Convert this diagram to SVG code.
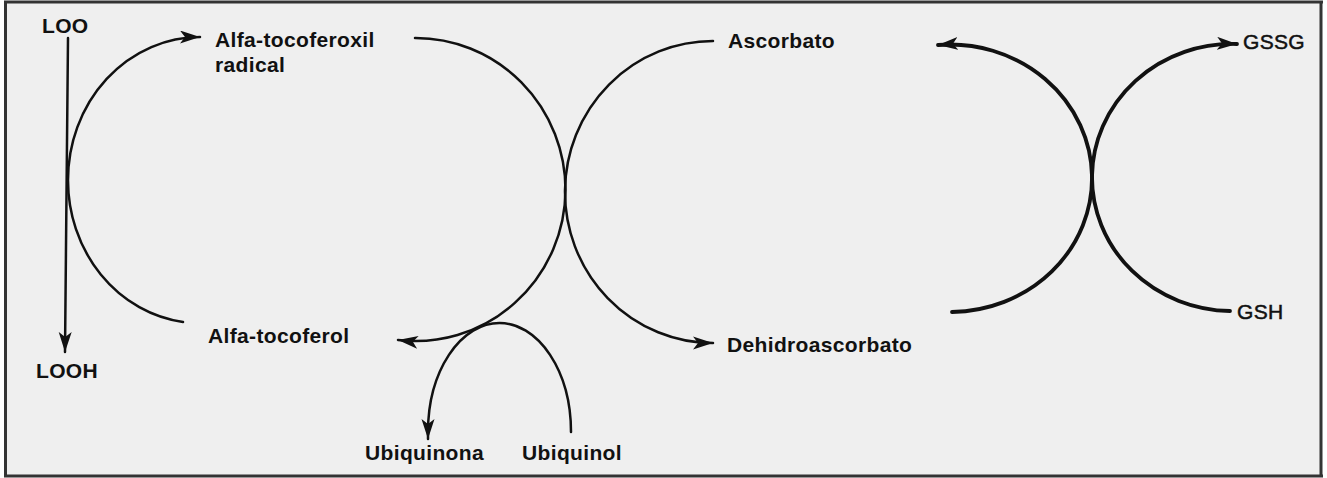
<svg xmlns="http://www.w3.org/2000/svg" width="1327" height="478" viewBox="0 0 1327 478">
<style>
.lbl{font-family:"Liberation Sans",Arial,sans-serif;font-size:21px;font-weight:bold;letter-spacing:0.35px;fill:#111}
.lbn{font-family:"Liberation Sans",Arial,sans-serif;font-size:21px;font-weight:normal;letter-spacing:0.3px;fill:#111;stroke:#111;stroke-width:0.5}
.c{fill:none;stroke:#111;stroke-width:2.5;stroke-linecap:round}
.t{fill:none;stroke:#111;stroke-width:3.8;stroke-linecap:round}
</style>
<defs>
<marker id="ah" markerUnits="userSpaceOnUse" markerWidth="22" markerHeight="14" refX="20" refY="6.5" orient="auto">
<path d="M0,0 L20,6.5 L0,13 L5,6.5 z" fill="#111"/>
</marker>
</defs>
<rect x="0" y="0" width="1327" height="478" fill="#fff"/>
<rect x="5" y="2" width="1317" height="474" fill="#efefef"/>
<g id="frame" fill="none" stroke="#333" stroke-width="3">
<line x1="4" y1="2" x2="1323" y2="2"/>
<line x1="5.5" y1="2" x2="5.5" y2="477"/>
<line x1="1321" y1="2" x2="1321" y2="477"/>
<line x1="4" y1="476" x2="1323" y2="476"/>
</g>
<g id="connectors">
<path class="c" d="M68,38 L65,352" marker-end="url(#ah)"/>
<path class="c" d="M183,322 A132,143 0 0 1 68,180 A132,143 0 0 1 200,37" marker-end="url(#ah)"/>
<path class="c" d="M415,38 A150,152 0 0 1 565.5,190 A150,152 0 0 1 398,340" marker-end="url(#ah)"/>
<path class="c" d="M713,41 A148,151 0 0 0 565,190 A148,151 0 0 0 713,343" marker-end="url(#ah)"/>
<path class="c" d="M571,432 A71.5,109 0 0 0 428,432 L428,439" marker-end="url(#ah)"/>
<path class="t" d="M952,312 A142,134 0 0 0 1092,176 A142,134 0 0 0 938,45" marker-end="url(#ah)"/>
<path class="t" d="M1230,311 A140,134 0 0 1 1092,176 A140,134 0 0 1 1237,44" marker-end="url(#ah)"/>
</g>
<g id="n-loo"><text class="lbl" x="42" y="33">LOO</text></g>
<g id="n-looh"><text class="lbl" x="36" y="378">LOOH</text></g>
<g id="n-radical"><text class="lbl" x="215" y="47">Alfa-tocoferoxil</text><text class="lbl" x="215" y="72">radical</text></g>
<g id="n-tocoferol"><text class="lbl" x="208" y="343">Alfa-tocoferol</text></g>
<g id="n-ascorbato"><text class="lbl" x="728" y="48">Ascorbato</text></g>
<g id="n-dehidro"><text class="lbl" x="727" y="352">Dehidroascorbato</text></g>
<g id="n-ubiquinona"><text class="lbl" x="365" y="460">Ubiquinona</text></g>
<g id="n-ubiquinol"><text class="lbl" x="522" y="460">Ubiquinol</text></g>
<g id="n-gssg"><text class="lbn" x="1243" y="49">GSSG</text></g>
<g id="n-gsh"><text class="lbn" x="1237" y="319">GSH</text></g>
</svg>
